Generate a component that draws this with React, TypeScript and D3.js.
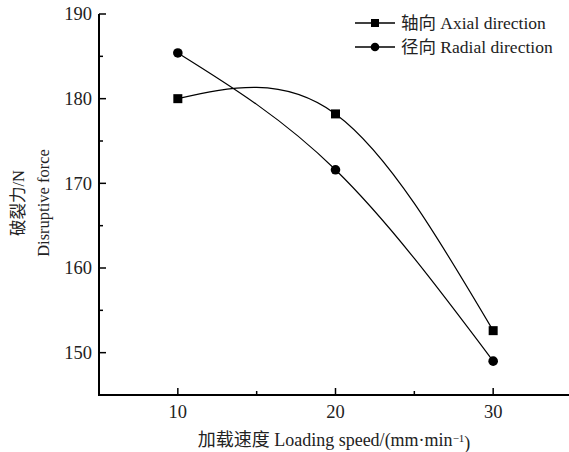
import { useEffect, useRef } from 'react';
import * as d3 from 'd3';

const speeds = [10, 20, 30];
const axialForce = [180.0, 178.2, 152.6];
const radialForce = [185.4, 171.6, 149.0];
const xTicks = [10, 20, 30];
const xMinorTicks = [15, 25];
const yTicks = [150, 160, 170, 180, 190];
const yMinorTicks = [155, 165, 175, 185];
const seriesNames = ['轴向 Axial direction', '径向 Radial direction'];

const FONT = '"Liberation Serif", "Times New Roman", "Noto Sans CJK SC", serif';

export default function App() {
    const ref = useRef<SVGSVGElement>(null);

    useEffect(() => {
        if (!ref.current) return;
        const svg = d3.select(ref.current);
        svg.selectAll('*').remove();

        const left = 99, top = 14, bottom = 395, right = 572;
        const x = d3.scaleLinear().domain([5, 35]).range([left, right]);
        const y = d3.scaleLinear().domain([145, 190]).range([bottom, top]);

        // axes
        svg.append('line')
            .attr('x1', left).attr('x2', left).attr('y1', top).attr('y2', bottom)
            .attr('stroke', '#000').attr('stroke-width', 2);
        svg.append('line')
            .attr('x1', left - 1).attr('x2', 569).attr('y1', bottom).attr('y2', bottom)
            .attr('stroke', '#000').attr('stroke-width', 2);

        // y ticks (inward)
        svg.selectAll('.ytick').data(yTicks).enter().append('line')
            .attr('x1', left).attr('x2', left + 7)
            .attr('y1', d => y(d)).attr('y2', d => y(d))
            .attr('stroke', '#000').attr('stroke-width', 1.5);
        svg.selectAll('.yminor').data(yMinorTicks).enter().append('line')
            .attr('x1', left).attr('x2', left + 4)
            .attr('y1', d => y(d)).attr('y2', d => y(d))
            .attr('stroke', '#000').attr('stroke-width', 1.5);
        svg.selectAll('.ylabel').data(yTicks).enter().append('text')
            .attr('x', left - 7).attr('y', d => y(d)).attr('dy', '0.35em')
            .attr('text-anchor', 'end')
            .attr('font-family', FONT).attr('font-size', 18.5).attr('fill', '#222')
            .text(d => d);

        // x ticks (inward)
        svg.selectAll('.xtick').data(xTicks).enter().append('line')
            .attr('x1', d => x(d)).attr('x2', d => x(d))
            .attr('y1', bottom).attr('y2', bottom - 7)
            .attr('stroke', '#000').attr('stroke-width', 1.5);
        svg.selectAll('.xminor').data(xMinorTicks).enter().append('line')
            .attr('x1', d => x(d)).attr('x2', d => x(d))
            .attr('y1', bottom).attr('y2', bottom - 4)
            .attr('stroke', '#000').attr('stroke-width', 1.5);
        svg.selectAll('.xlabel').data(xTicks).enter().append('text')
            .attr('x', d => x(d)).attr('y', 412).attr('dy', '0.35em')
            .attr('text-anchor', 'middle')
            .attr('font-family', FONT).attr('font-size', 18.5).attr('fill', '#222')
            .text(d => d);

        // axis titles
        const xt = svg.append('text')
            .attr('x', 334).attr('y', 440).attr('dy', '0.35em')
            .attr('text-anchor', 'middle')
            .attr('font-family', FONT).attr('font-size', 18).attr('fill', '#222');
        xt.append('tspan').text('加载速度 Loading speed/(mm·min');
        xt.append('tspan').attr('dy', '-0.4em').attr('font-size', 11).text('−1');
        xt.append('tspan').attr('dy', '0.4em').text(')');

        const yt = svg.append('g').attr('transform', `translate(0, 203) rotate(-90)`);
        yt.append('text').attr('x', 0).attr('y', 18).attr('dy', '0.35em')
            .attr('text-anchor', 'middle')
            .attr('font-family', FONT).attr('font-size', 16.5).attr('fill', '#222')
            .text('破裂力/N');
        yt.append('text').attr('x', 0).attr('y', 43).attr('dy', '0.35em')
            .attr('text-anchor', 'middle')
            .attr('font-family', FONT).attr('font-size', 16.5).attr('fill', '#222')
            .text('Disruptive force');

        const line = d3.line<number>()
            .x((_, i) => x(speeds[i]))
            .y(d => y(d))
            .curve(d3.curveNatural);

        // series
        [axialForce, radialForce].forEach((vals, si) => {
            svg.append('path')
                .attr('d', line(vals) as string)
                .attr('fill', 'none').attr('stroke', '#000').attr('stroke-width', 1.2);
            vals.forEach((v, i) => {
                if (si === 0) {
                    svg.append('rect')
                        .attr('x', x(speeds[i]) - 4.5).attr('y', y(v) - 4.5)
                        .attr('width', 9).attr('height', 9).attr('fill', '#000');
                } else {
                    svg.append('circle')
                        .attr('cx', x(speeds[i])).attr('cy', y(v)).attr('r', 4.8).attr('fill', '#000');
                }
            });
        });

        // legend
        seriesNames.forEach((name, i) => {
            const ly = 23 + i * 24;
            svg.append('line')
                .attr('x1', 355).attr('x2', 395).attr('y1', ly).attr('y2', ly)
                .attr('stroke', '#000').attr('stroke-width', 1.5);
            if (i === 0) {
                svg.append('rect').attr('x', 375 - 4).attr('y', ly - 4)
                    .attr('width', 8).attr('height', 8).attr('fill', '#000');
            } else {
                svg.append('circle').attr('cx', 375).attr('cy', ly).attr('r', 4.3).attr('fill', '#000');
            }
            svg.append('text')
                .attr('x', 401).attr('y', ly).attr('dy', '0.35em')
                .attr('font-family', FONT).attr('font-size', 17.5).attr('fill', '#222')
                .text(name);
        });
    }, []);

    return (
        <div style={{ position: 'absolute', left: 0, top: 0 }}>
            <svg ref={ref} width={569} height={452} style={{ display: 'block', background: '#fff' }} />
        </div>
    );
}
